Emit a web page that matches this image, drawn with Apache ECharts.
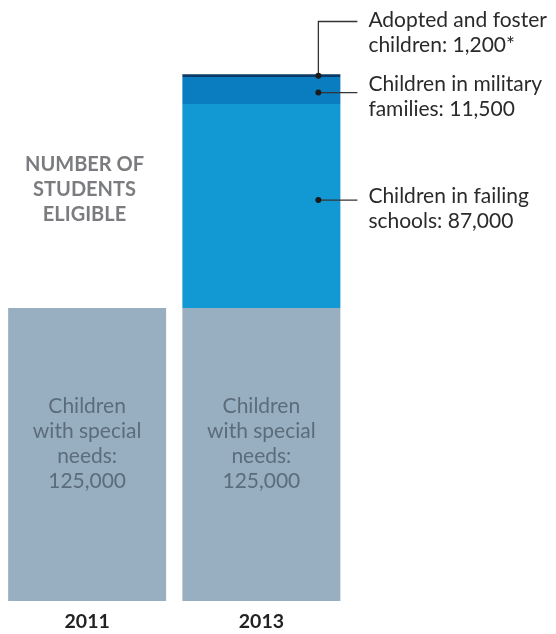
<!DOCTYPE html>
<html>
<head>
<meta charset="utf-8">
<script src="https://cdn.jsdelivr.net/npm/echarts@6/dist/echarts.min.js"></script>
<style>html,body{margin:0;padding:0;background:#fff}#c{width:556px;height:634px}</style>
</head>
<body>
<div id="c"></div>
<script>
var years = ['2011', '2013'];
var specialNeeds = [125000, 125000];
var failingSchools = [null, 87000];
var militaryFamilies = [null, 11500];
var adoptedFoster = [null, 1200];
var specialLabel = 'Children\nwith special\nneeds:';
var annotations = [
  { name: 'Adopted and foster\nchildren: 1,200*', series: 3 },
  { name: 'Children in military\nfamilies: 11,500', series: 2 },
  { name: 'Children in failing\nschools: 87,000', series: 1 }
];
var axisTitle = 'NUMBER OF\nSTUDENTS\nELIGIBLE';

function fmt(v) { return v.toLocaleString('en-US'); }

var chart = echarts.init(document.getElementById('c'));
var FONT = 'Lato, "Open Sans", sans-serif';
chart.setOption({
  animation: false,
  grid: { left: -1.5, width: 350, top: 15, bottom: 33 },
  xAxis: {
    type: 'category', data: years,
    axisLine: { show: false }, axisTick: { show: false },
    axisLabel: { fontFamily: FONT, fontWeight: 'bold', fontSize: 19.5, color: '#222', margin: 11 }
  },
  yAxis: { type: 'value', min: 0, max: 250000, show: false, splitLine: { show: false } },
  series: [
    {
      type: 'bar', stack: 't', data: specialNeeds, barWidth: 158,
      itemStyle: { color: '#98afc1' },
      label: {
        show: true, position: 'inside', offset: [0, -11],
        formatter: function (p) { return specialLabel + '\n' + fmt(p.value); },
        fontFamily: FONT, fontSize: 21, lineHeight: 25, color: '#5b6d7c'
      }
    },
    { type: 'bar', stack: 't', data: failingSchools, barWidth: 158, itemStyle: { color: '#1299d3' } },
    { type: 'bar', stack: 't', data: militaryFamilies, barWidth: 158, itemStyle: { color: '#0a7cc0' } },
    { type: 'bar', stack: 't', data: adoptedFoster, barWidth: 158, itemStyle: { color: '#0b3a66' } }
  ]
});

// annotations positioned from data via the chart's scales
var seriesData = [specialNeeds, failingSchools, militaryFamilies, adoptedFoster];
var dotOffsetY = [0, -6, 2, 0];
var textCenterY = [null, 196, 84, 20];
var elements = [];
elements.push({
  type: 'text', z: 100, left: 85 - 60, top: 152,
  style: { text: axisTitle, x: 60, y: 0, textAlign: 'center', fontFamily: FONT, fontWeight: 'bold', fontSize: 20, lineHeight: 25, fill: '#7b7c80' }
});
annotations.forEach(function (a) {
  var s = a.series, idx = 1;
  var base = 0;
  for (var i = 0; i < s; i++) base += seriesData[i][idx] || 0;
  var mid = base + seriesData[s][idx] / 2;
  var p = chart.convertToPixel({ gridIndex: 0 }, [years[idx], mid]);
  var dx = p[0] + 57, dy = p[1] + dotOffsetY[s];
  var tx = dx + 50;
  var ty = textCenterY[s];
  if (s === 3) {
    var ly = ty + 1.5;
    elements.push({ type: 'polyline', z: 100, shape: { points: [[dx, dy], [dx, ly], [dx + 39, ly]] }, style: { stroke: '#333', lineWidth: 1.3, fill: null } });
  } else {
    elements.push({ type: 'line', z: 100, shape: { x1: dx, y1: dy, x2: dx + 39, y2: dy }, style: { stroke: '#333', lineWidth: 1.3 } });
  }
  elements.push({ type: 'circle', z: 101, shape: { cx: dx, cy: dy, r: 3 }, style: { fill: '#1a1a1a' } });
  elements.push({
    type: 'text', z: 100, x: tx, y: ty - 12.5,
    style: { text: a.name, fontFamily: FONT, fontSize: 21, lineHeight: 25, fill: '#2a2a2a', textVerticalAlign: 'top' }
  });
});
chart.setOption({ graphic: elements });
</script>
</body>
</html>
